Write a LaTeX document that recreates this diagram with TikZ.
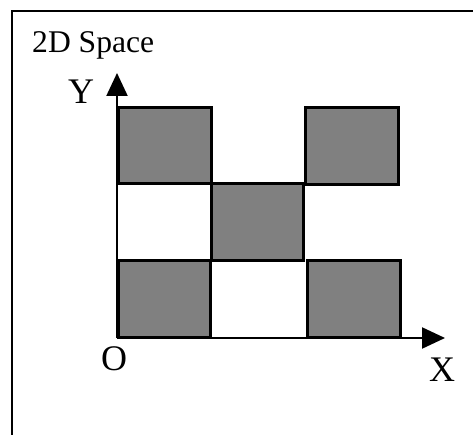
\documentclass[tikz,border=0pt]{standalone}
\usepackage{fontspec}
\setmainfont{Liberation Serif}
\usetikzlibrary{arrows.meta}
\begin{document}
\begin{tikzpicture}[x=1pt,y=-1pt,
  cell/.style={draw=black,fill=black!50,line width=3pt},
  axis/.style={draw=black,line width=2.2pt,-{Triangle[length=23pt,width=21pt]}},
  frameline/.style={draw=black,line width=2.5pt},
  lbl/.style={inner sep=0pt,anchor=base,font=\fontsize{36}{40}\selectfont},
  title/.style={inner sep=0pt,anchor=base west,font=\fontsize{31.6}{36}\selectfont}]
\useasboundingbox (0,0) rectangle (473,435);
% frame (only left and top edges visible)
\coordinate (fbl) at (12,440);
\coordinate (ftl) at (12,11);
\coordinate (ftr) at (480,11);
\draw[frameline] (fbl) -- (ftl) -- (ftr);
% cells
\draw[cell] (118,108) rectangle (211,184);
\draw[cell] (305,108) rectangle (398,185);
\draw[cell] (211,184) rectangle (303,261);
\draw[cell] (118,261) rectangle (210,337);
\draw[cell] (307,261) rectangle (400,337);
% axes
\coordinate (o) at (117,338);
\coordinate (ytip) at (117,73);
\coordinate (xtip) at (445,338);
\draw[axis] (o) -- (ytip);
\draw[axis] (o) -- (xtip);
% labels
\node[title] (t) at (32,53) {2D Space};
\node[lbl] (ylab) at (81,104) {Y};
\node[lbl] (olab) at (114,370) {O};
\node[lbl] (xlab) at (442,381) {X};
\end{tikzpicture}
\end{document}
